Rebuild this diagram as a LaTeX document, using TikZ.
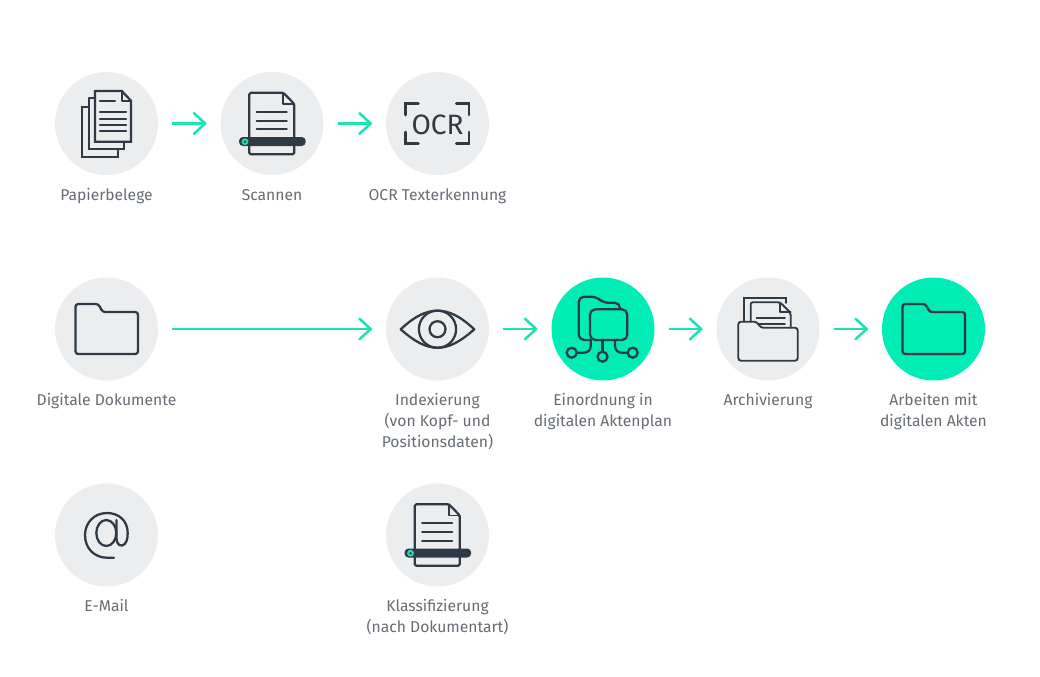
\documentclass[tikz,border=0pt]{standalone}
\usepackage{fontspec}
\setmainfont{Fira Sans}
\usetikzlibrary{arrows.meta}
\definecolor{disc}{HTML}{ECEDEF}
\definecolor{mint}{HTML}{00EDB6}
\definecolor{flowc}{HTML}{1FE2B2}
\definecolor{ink}{HTML}{2F3A45}
\definecolor{txt}{HTML}{666D74}
\tikzset{
  x=0.75pt,y=-0.75pt,
  disc/.style={circle,fill=disc,minimum size=77.25pt,inner sep=0pt,outer sep=0pt},
  greendisc/.style={disc,fill=mint},
  flow/.style={draw=flowc,line width=1.9pt,shorten <=10.5pt,shorten >=10.5pt,
    -{Straight Barb[length=8.5pt,width=15.5pt,line width=1.9pt,round]}},
  label/.style={text=txt,align=center,anchor=north,inner sep=0pt,
    execute at begin node={\rule{0pt}{9pt}},
    font=\fontsize{11.75}{15.4}\selectfont},
  icon/.style={draw=ink,line width=1.7pt,line join=round,line cap=round},
  thinicon/.style={icon,line width=1.4pt},
  pics/folder/.style={code={
    \draw[icon,rounded corners=2pt] (-31,-25) -- (-8,-25) -- (-4,-17) -- (31.5,-17) -- (31.5,25) -- (-31,25) -- cycle;
  }},
  pics/scandoc/.style={code={
    \draw[icon,rounded corners=1.2pt] (-22.7,-30.8) -- (11.3,-30.8) -- (22.3,-19.5) -- (22.3,30.8) -- (-22.7,30.8) -- cycle;
    \draw[thinicon] (11.3,-30.8) -- (11.3,-19.5) -- (22.3,-19.5);
    \draw[icon] (-15.3,-11.8) -- (14.7,-11.8) (-15.3,-2.8) -- (14.7,-2.8) (-15.3,5.8) -- (14.7,5.8);
    \fill[ink,rounded corners=3pt] (-33,13.5) rectangle (33.7,22.5);
    \fill[flowc] (-27,18.2) circle[radius=3.4];
    \fill[ink] (-27,18.2) circle[radius=1.3];
  }}
}
\begin{document}
\begin{tikzpicture}
\useasboundingbox (0,0) rectangle (1040,676);
\fill[white] (0,0) rectangle (1040,676);
% discs
\node[disc] (paper) at (106.5,123.5) {};
\node[disc] (scan) at (272,123.5) {};
\node[disc] (ocr) at (437.5,123.5) {};
\node[disc] (digital) at (106.5,329) {};
\node[disc] (index) at (437.5,329) {};
\node[greendisc] (plan) at (603,329) {};
\node[disc] (archive) at (768,329) {};
\node[greendisc] (work) at (933.5,329) {};
\node[disc] (mail) at (106.5,535) {};
\node[disc] (class) at (437.5,535) {};
% connectors
\draw[flow] (paper) -- (scan);
\draw[flow] (scan) -- (ocr);
\draw[flow] (digital) -- (index);
\draw[flow] (index) -- (plan);
\draw[flow] (plan) -- (archive);
\draw[flow] (archive) -- (work);
% labels
\node[label] (lpaper) at (106.5,188) {Papierbelege};
\node[label] (lscan) at (272,188) {Scannen};
\node[label] (locr) at (437.5,188) {OCR Texterkennung};
\node[label] (ldigital) at (106.5,393.5) {Digitale Dokumente};
\node[label] (lindex) at (437.5,393.5) {Indexierung\\(von Kopf- und\\Positionsdaten)};
\node[label] (lplan) at (603,393.5) {Einordnung in\\digitalen Aktenplan};
\node[label] (larchive) at (768,393.5) {Archivierung};
\node[label] (lwork) at (933.5,393.5) {Arbeiten mit\\digitalen Akten};
\node[label] (lmail) at (106.5,599) {E-Mail};
\node[label] (lclass) at (437.5,599) {Klassifizierung\\(nach Dokumentart)};
% paper stack
\draw[icon,line join=miter] (81.7,106.7) -- (81.7,156.7) -- (117.7,156.7) -- (117.7,149);
\draw[icon,line join=miter] (89,98.3) -- (89,149) -- (95,149) (89,98.3) -- (95,98.3) (124.3,141.7) -- (124.3,149) -- (89,149);
\draw[icon,line join=miter] (89,106.7) -- (81.7,106.7);
\draw[icon,line join=miter] (95,91) -- (121.7,91) -- (131,100.7) -- (131,141.7) -- (95,141.7) -- cycle;
\draw[thinicon] (121.7,91) -- (121.7,100.7) -- (131,100.7);
\draw[icon] (100,100.7) -- (115,100.7) (100,112.3) -- (126,112.3) (100,118.7) -- (126,118.7) (100,125) -- (126,125) (100,131.2) -- (126,131.2);
% scanner icons
\pic at (scan.center) {scandoc};
\pic at (class.center) {scandoc};
% OCR
\draw[icon,line width=2pt,line join=miter] (405.7,115) -- (405.7,103.3) -- (418.4,103.3)
  (456.3,103.3) -- (469,103.3) -- (469,115)
  (405.7,132) -- (405.7,143.3) -- (418.4,143.3)
  (456.3,143.3) -- (469,143.3) -- (469,132);
\node[text=ink,inner sep=0pt,font=\fontsize{21}{22}\selectfont] (ocrtext) at (437.5,124.5) {OCR};
% folders
\pic at (digital.center) {folder};
\pic at (work.center) {folder};
% eye
\draw[icon] (400.7,329.3) .. controls (415,316) and (426,310.7) .. (437.5,310.7)
  .. controls (449,310.7) and (460,316) .. (474.3,329.3)
  .. controls (460,342) and (449,347.7) .. (437.5,347.7)
  .. controls (426,347.7) and (415,342) .. cycle;
\draw[icon] (437.5,329.2) circle[radius=18.6];
\draw[icon] (437.5,329.2) circle[radius=8];
% plan icon
\draw[icon,rounded corners=4pt] (590,340) -- (578.7,340) -- (578.7,296.7) -- (596.7,296.7) -- (602.7,302.7) -- (620,302.7) -- (620,309.3);
\draw[icon,rounded corners=4pt] (590,340) -- (590,309.3) -- (627.3,309.3) -- (627.3,340) -- cycle;
\draw[icon] (590.7,340) -- (590.7,346) .. controls (590.7,351) and (587,352.7) .. (583,352.7) -- (576.7,352.7);
\draw[icon] (571.7,352.7) circle[radius=5];
\draw[icon] (602.5,340) -- (602.5,351.7);
\draw[icon] (602.5,356.7) circle[radius=5];
\draw[icon] (615,340) -- (615,346) .. controls (615,351) and (619,352.7) .. (622,352.7) -- (627.7,352.7);
\draw[icon] (632.7,352.7) circle[radius=5];
% archive icon
\draw[thinicon,line join=miter] (744.3,321.7) -- (744.3,297.7) -- (785.7,297.7) -- (785.7,303);
\draw[thinicon,rounded corners=1.5pt] (750.7,321.7) -- (750.7,302.3) -- (780,302.3) -- (790.7,313) -- (790.7,327.7);
\draw[thinicon] (780,302.3) -- (780,312) -- (790.7,312);
\draw[thinicon] (756.7,317.7) -- (785,317.7) (758.5,324) -- (785,324);
\draw[thinicon,rounded corners=2pt] (738.3,321.7) -- (756.7,321.7) -- (760.7,327.7) -- (797.7,327.7) -- (797.7,360.7) -- (738.3,360.7) -- cycle;
% at sign
\draw[icon] (106.3,533) ellipse[x radius=10,y radius=13];
\draw[icon] (116.5,520) -- (116.5,538) .. controls (116.5,543) and (119,546) .. (122,545.5)
  .. controls (126,544.5) and (127.7,540) .. (127.7,533)
  .. controls (127.7,520) and (118,513) .. (107,513)
  .. controls (94,513) and (85,523) .. (85,535)
  .. controls (85,549) and (95,557.7) .. (107,557.7) -- (114,557.7);
\end{tikzpicture}
\end{document}
